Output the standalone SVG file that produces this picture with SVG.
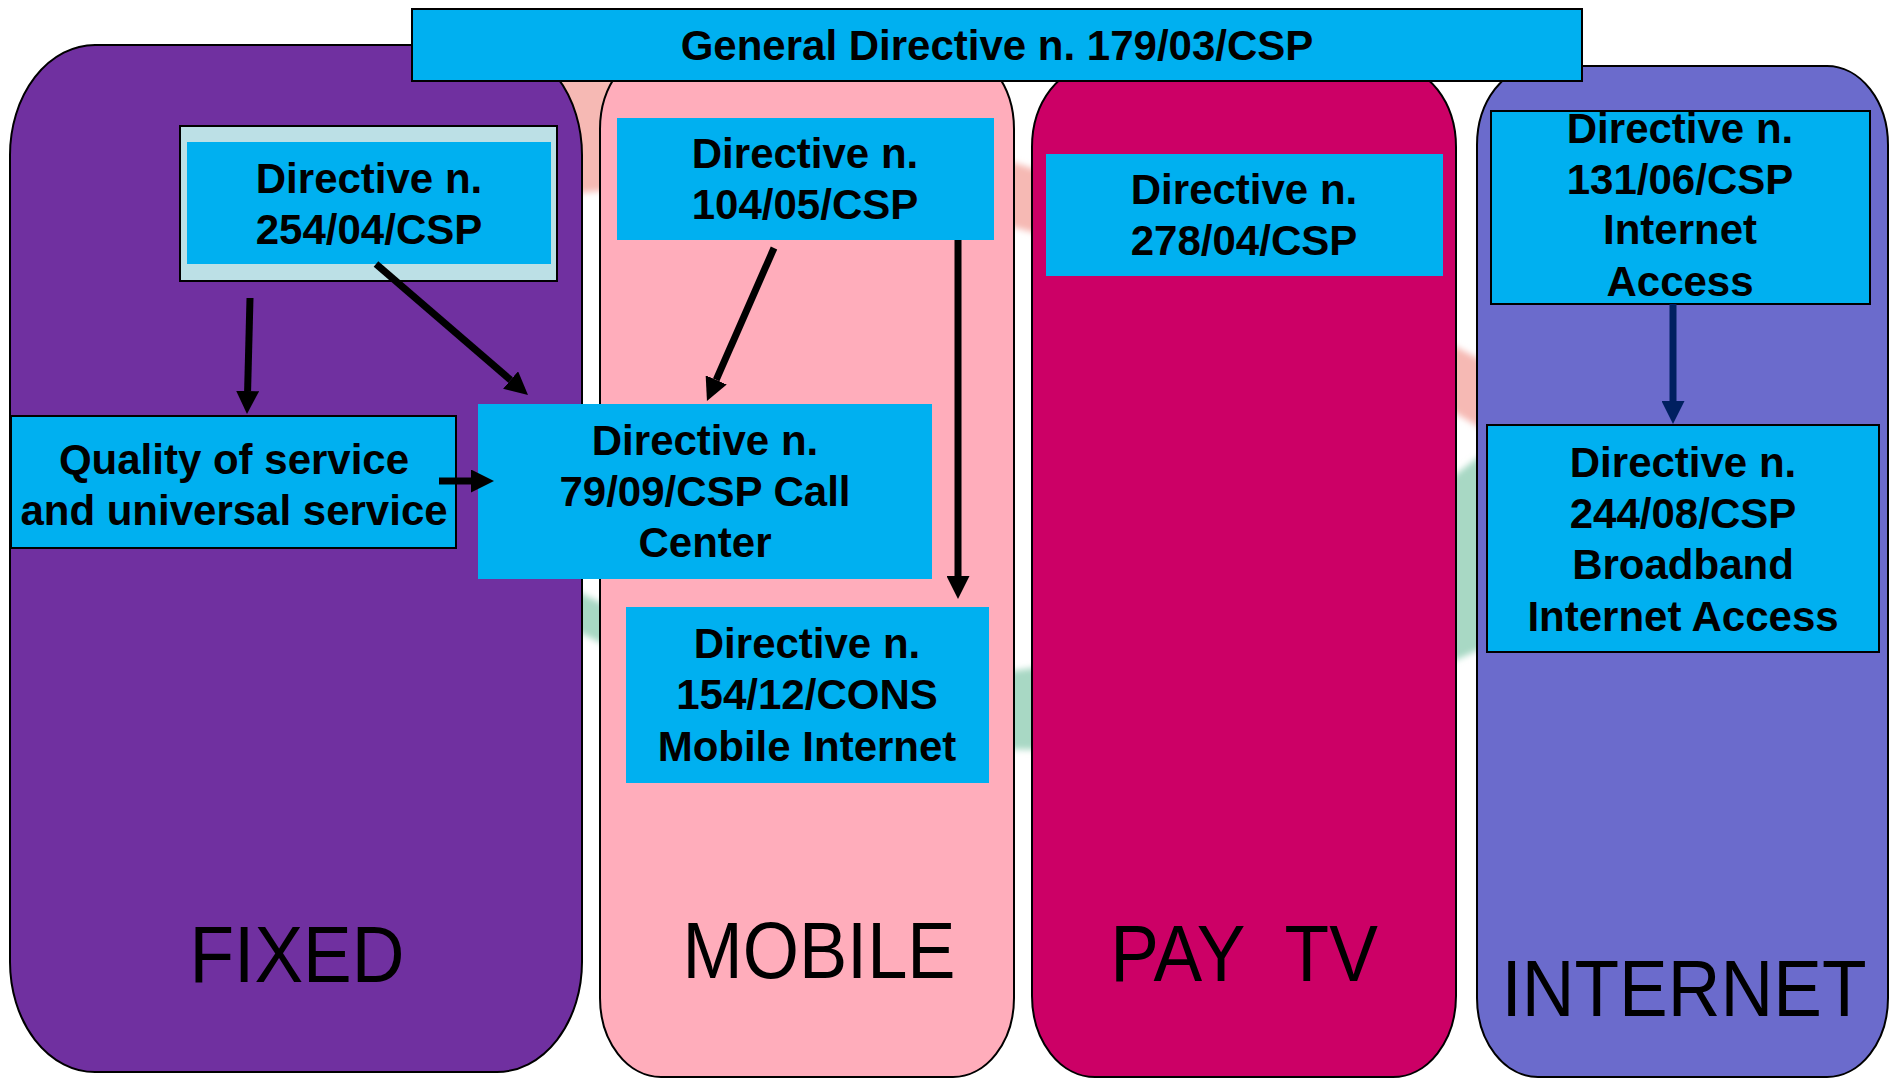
<svg xmlns="http://www.w3.org/2000/svg" width="1889" height="1078" viewBox="0 0 1889 1078">
  <defs>
    <style>
      .col { stroke: #000; stroke-width: 2; }
      .box { fill: #00B0F0; }
      .edged { stroke: #000; stroke-width: 2; }
      .t { font-family: "Liberation Sans", Arial, Helvetica, sans-serif; font-weight: bold; font-size: 42px; fill: #000; text-anchor: middle; }
      .lab { font-family: "Liberation Sans", Arial, Helvetica, sans-serif; font-size: 73px; fill: #000; text-anchor: middle; }
      .arr { stroke: #000; stroke-width: 7; fill: none; marker-end: url(#head); }
      .arr-navy { stroke: #002060; stroke-width: 7; fill: none; marker-end: url(#head-navy); }
    </style>
    <marker id="head" markerUnits="userSpaceOnUse" markerWidth="23" markerHeight="23" refX="0" refY="11.5" orient="auto">
      <path d="M0,0 L23,11.5 L0,23 z" fill="#000"/>
    </marker>
    <marker id="head-navy" markerUnits="userSpaceOnUse" markerWidth="23" markerHeight="23" refX="0" refY="11.5" orient="auto">
      <path d="M0,0 L23,11.5 L0,23 z" fill="#002060"/>
    </marker>
    <filter id="soft" x="-10%" y="-10%" width="120%" height="120%">
      <feGaussianBlur stdDeviation="3"/>
    </filter>
  </defs>

  <rect width="1889" height="1078" fill="#fff"/>

  <!-- faded tricolour emblem behind the columns -->
  <g id="emblem" filter="url(#soft)">
    <path d="M520,70 Q1000,100 1500,370 L1500,440 Q1000,130 520,200 Z" fill="#F6B9B4"/>
    <path d="M520,560 Q1000,844 1500,440 L1500,640 Q1000,878 520,600 Z" fill="#A8D8C4"/>
  </g>

  <!-- service columns -->
  <g id="col-fixed">
    <rect class="col" x="10" y="45" width="572" height="1027" rx="85" ry="110" fill="#7030A0"/>
    <text class="lab" transform="translate(297,982) scale(1,1.1)">FIXED</text>
  </g>
  <g id="col-mobile">
    <rect class="col" x="600" y="50" width="414" height="1027" rx="61" ry="79" fill="#FFADBB"/>
    <text class="lab" transform="translate(819,978) scale(0.99,1.1)">MOBILE</text>
  </g>
  <g id="col-paytv">
    <rect class="col" x="1032" y="66" width="424" height="1011" rx="63" ry="81" fill="#CC0066"/>
    <text class="lab" transform="translate(1244,981) scale(1,1.1)">PAY&#160; TV</text>
  </g>
  <g id="col-internet">
    <rect class="col" x="1477" y="66" width="411" height="1011" rx="61" ry="79" fill="#6B6BCC"/>
    <text class="lab" transform="translate(1684,1016) scale(1,1.1)">INTERNET</text>
  </g>

  <!-- directives -->
  <g id="general-179">
    <rect class="box edged" x="412" y="9" width="1170" height="72"/>
    <text class="t" x="997" y="60">General Directive n. 179/03/CSP</text>
  </g>

  <g id="dir-254">
    <rect x="180" y="126" width="377" height="155" fill="#BCE0E6" stroke="#000" stroke-width="2"/>
    <rect class="box" x="187" y="142" width="364" height="122"/>
    <text class="t" x="369" y="193">Directive n.</text>
    <text class="t" x="369" y="244">254/04/CSP</text>
  </g>

  <g id="quality">
    <rect class="box edged" x="11" y="416" width="445" height="132"/>
    <text class="t" x="234" y="474">Quality of service</text>
    <text class="t" x="234" y="525">and universal service</text>
  </g>

  <g id="dir-79">
    <rect class="box" x="478" y="404" width="454" height="175"/>
    <text class="t" x="705" y="455">Directive n.</text>
    <text class="t" x="705" y="506">79/09/CSP Call</text>
    <text class="t" x="705" y="557">Center</text>
  </g>

  <g id="dir-104">
    <rect class="box" x="617" y="118" width="377" height="122"/>
    <text class="t" x="805" y="168">Directive n.</text>
    <text class="t" x="805" y="219">104/05/CSP</text>
  </g>

  <g id="dir-154">
    <rect class="box" x="626" y="607" width="363" height="176"/>
    <text class="t" x="807" y="658">Directive n.</text>
    <text class="t" x="807" y="709">154/12/CONS</text>
    <text class="t" x="807" y="761">Mobile Internet</text>
  </g>

  <g id="dir-278">
    <rect class="box" x="1046" y="154" width="397" height="122"/>
    <text class="t" x="1244" y="204">Directive n.</text>
    <text class="t" x="1244" y="255">278/04/CSP</text>
  </g>

  <g id="dir-131">
    <rect class="box edged" x="1491" y="111" width="379" height="193"/>
    <text class="t" x="1680" y="143">Directive n.</text>
    <text class="t" x="1680" y="194">131/06/CSP</text>
    <text class="t" x="1680" y="244">Internet</text>
    <text class="t" x="1680" y="296">Access</text>
  </g>

  <g id="dir-244">
    <rect class="box edged" x="1487" y="425" width="392" height="227"/>
    <text class="t" x="1683" y="477">Directive n.</text>
    <text class="t" x="1683" y="528">244/08/CSP</text>
    <text class="t" x="1683" y="579">Broadband</text>
    <text class="t" x="1683" y="631">Internet Access</text>
  </g>

  <!-- connectors: each line stops at the base of its arrowhead -->
  <g id="connectors">
    <line class="arr" x1="250" y1="298" x2="247.6" y2="391"/>
    <line class="arr" x1="376" y1="264" x2="510.6" y2="380"/>
    <line class="arr" x1="439" y1="481" x2="471" y2="481"/>
    <line class="arr" x1="774" y1="248" x2="716.2" y2="379.9"/>
    <line class="arr" x1="958" y1="240" x2="958" y2="576"/>
    <line class="arr-navy" x1="1673" y1="304" x2="1673" y2="401"/>
  </g>
</svg>
